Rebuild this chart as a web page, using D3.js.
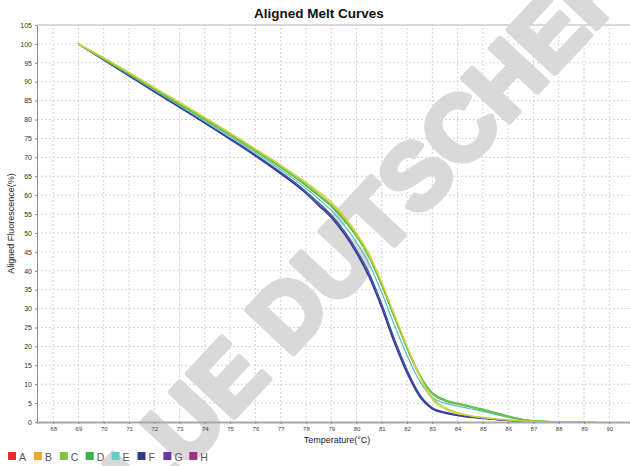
<!DOCTYPE html>
<html>
<head>
<meta charset="utf-8">
<script src="https://cdn.jsdelivr.net/npm/d3@7"></script>
<style>
  body { margin: 0; background: #fff; }
  svg { display: block; font-family: Arial, "Liberation Sans", sans-serif; }
</style>
</head>
<body>
<div id="chart"></div>
<script>
// temperatures shared by all curves
var temps = [69, 70, 71, 72, 73, 74, 75, 76, 77, 78, 78.5, 79, 79.5, 80, 80.5, 81, 81.5, 82, 82.5, 83, 83.5, 84, 84.5, 85, 85.5, 86, 86.5, 87, 88, 89, 89.5];

// aligned fluorescence (%) per curve
var violetCurve = [100, 95.7, 91.5, 87.3, 83.2, 79.0, 74.7, 70.3, 65.6, 60.4, 57.2, 54.0, 49.8, 44.6, 38.2, 30.0, 20.8, 12.8, 6.6, 3.4, 2.3, 1.7, 1.2, 0.9, 0.6, 0.35, 0.15, 0.05, null, null, null];
var navyCurve = [100, 95.8, 91.6, 87.4, 83.3, 79.1, 74.9, 70.5, 65.8, 60.6, 57.5, 54.3, 50.1, 44.9, 38.6, 30.4, 21.2, 13.2, 7.0, 3.6, 2.5, 1.8, 1.3, 1.0, 0.7, 0.4, 0.2, 0.1, null, null, null];
var blueCurve = [100, 95.8, 91.7, 87.5, 83.4, 79.2, 75.0, 70.7, 66.1, 61.0, 58.0, 54.8, 50.7, 45.5, 39.4, 31.2, 22.0, 13.8, 7.3, 3.8, 2.6, 1.9, 1.4, 1.0, 0.7, 0.4, 0.2, 0.1, null, null, null];
var cyanCurve = [100, 95.9, 91.9, 87.8, 83.7, 79.6, 75.5, 71.2, 66.7, 61.8, 59.0, 56.0, 52.2, 47.5, 41.8, 34.2, 25.6, 17.6, 10.8, 6.5, 5.0, 4.2, 3.5, 2.8, 2.0, 1.2, 0.6, 0.25, 0.05, 0, null];
var greenCurve = [100, 96.0, 92.0, 88.0, 84.0, 80.0, 75.9, 71.7, 67.3, 62.5, 59.8, 57.0, 53.4, 49.0, 43.5, 36.0, 27.6, 19.4, 12.2, 7.4, 5.6, 4.7, 3.9, 3.1, 2.3, 1.4, 0.7, 0.3, 0.05, 0, null];
var greenCurve2 = [100, 96.0, 92.1, 88.1, 84.1, 80.1, 76.0, 71.8, 67.4, 62.7, 60.0, 57.2, 53.6, 49.2, 43.7, 36.2, 27.8, 19.6, 12.5, 7.8, 5.9, 5.0, 4.2, 3.4, 2.5, 1.6, 0.8, 0.35, 0.05, 0, null];
var lightGreenCurve = [100, 96.1, 92.2, 88.2, 84.2, 80.2, 76.1, 71.9, 67.5, 62.8, 60.2, 57.4, 53.8, 49.3, 43.8, 36.4, 28.0, 19.8, 12.6, 7.6, 5.7, 4.8, 4.0, 3.2, 2.4, 1.5, 0.8, 0.35, 0.05, 0, null];
var limeCurve = [100, 96.2, 92.3, 88.3, 84.4, 80.4, 76.3, 72.1, 67.8, 63.2, 60.6, 57.8, 54.2, 49.6, 44.0, 36.6, 28.2, 20.0, 12.3, 6.4, 3.8, 2.5, 1.7, 1.2, 0.9, 0.6, 0.35, 0.2, 0.05, 0, 0];
var yellowCurve = [100, 96.4, 92.5, 88.5, 84.6, 80.6, 76.5, 72.3, 68.0, 63.4, 61.0, 58.3, 54.6, 50.0, 44.5, 37.0, 28.5, 20.0, 12.0, 6.0, 3.4, 2.2, 1.6, 1.1, 0.8, 0.5, 0.3, 0.15, 0.05, 0, 0];

var curveValues = [violetCurve, navyCurve, blueCurve, cyanCurve, greenCurve, greenCurve2, lightGreenCurve, limeCurve, yellowCurve];
var curveColors = ["#4a46a6", "#2b3a8e", "#3848a0", "#52c3bd", "#3ab54a", "#4cba4c", "#7cc242", "#b3cc3a", "#d6d23c"];

// legend
var wells = ["A", "B", "C", "D", "E", "F", "G", "H"];
var wellColors = ["#ec2a2e", "#e8aa2c", "#80c341", "#3cb44b", "#66cbc9", "#2e3b8c", "#6a36a0", "#a2307f"];

var xTicks = d3.range(68, 91);
var yTicks = d3.range(0, 106, 5);

var width = 630, height = 466;
var margin = {top: 25, right: 0, bottom: 44, left: 37};

var svg = d3.select("#chart").append("svg")
    .attr("width", width)
    .attr("height", height);

var x = d3.scaleLinear()
    .domain([67.36, 90.82])
    .range([margin.left, width - margin.right]);

var y = d3.scaleLinear()
    .domain([0, 105])
    .range([height - margin.bottom, margin.top]);

// grid
svg.append("g").selectAll("line")
    .data(xTicks)
    .enter().append("line")
    .attr("x1", function(d) { return x(d); })
    .attr("x2", function(d) { return x(d); })
    .attr("y1", y(0))
    .attr("y2", y(105))
    .attr("stroke", "#d4d4d4")
    .attr("stroke-dasharray", "2,2");

svg.append("g").selectAll("line")
    .data(yTicks.filter(function(d) { return d > 0 && d < 105; }))
    .enter().append("line")
    .attr("x1", x.range()[0])
    .attr("x2", x.range()[1])
    .attr("y1", function(d) { return y(d); })
    .attr("y2", function(d) { return y(d); })
    .attr("stroke", "#d4d4d4")
    .attr("stroke-dasharray", "2,2");

// top border
svg.append("line")
    .attr("x1", x.range()[0]).attr("x2", x.range()[1])
    .attr("y1", y(105)).attr("y2", y(105))
    .attr("stroke", "#b4b4b4");

// watermark (runs off the picture, as in the original)
svg.append("text")
    .attr("transform", "translate(346,250) rotate(-47)")
    .attr("text-anchor", "middle")
    .attr("dominant-baseline", "central")
    .style("font-size", "92px")
    .style("font-weight", "bold")
    .style("fill", "#d9d9d9")
    .style("stroke", "#d9d9d9")
    .style("stroke-width", 6)
    .style("stroke-linejoin", "round")
    .text("BLUE DUTSCHER");

// curves
var line = d3.line()
    .defined(function(d) { return d[1] != null; })
    .x(function(d) { return x(d[0]); })
    .y(function(d) { return y(d[1]); })
    .curve(d3.curveMonotoneX);

svg.append("g").selectAll("path")
    .data(curveValues)
    .enter().append("path")
    .attr("d", function(vals) { return line(temps.map(function(t, i) { return [t, vals[i]]; })); })
    .attr("fill", "none")
    .attr("stroke", function(d, i) { return curveColors[i]; })
    .attr("stroke-width", 1.2);

// axes
var yAxis = svg.append("g")
    .attr("transform", "translate(" + margin.left + ",0)")
    .call(d3.axisLeft(y).tickValues(yTicks).tickSize(2).tickPadding(3));
yAxis.select(".domain").attr("stroke", "#8c8c8c");
yAxis.selectAll(".tick line").attr("stroke", "#8c8c8c");
yAxis.selectAll("text").style("font-size", "7px").style("font-family", "Arial").attr("fill", "#333");

var xAxis = svg.append("g")
    .attr("transform", "translate(0," + y(0) + ")")
    .call(d3.axisBottom(x).tickValues(xTicks).tickSize(2).tickPadding(3));
xAxis.select(".domain").attr("stroke", "#a8a8a8").attr("stroke-width", 2);
xAxis.selectAll(".tick line").attr("stroke", "#8c8c8c");
xAxis.selectAll("text").style("font-size", "6px").style("font-family", "Arial").attr("fill", "#444");

// title and labels
svg.append("text")
    .attr("x", 319).attr("y", 18)
    .attr("text-anchor", "middle")
    .style("font-size", "13.5px")
    .style("font-weight", "bold")
    .attr("fill", "#111")
    .text("Aligned Melt Curves");

svg.append("text")
    .attr("transform", "translate(14," + ((y(0) + y(105)) / 2) + ") rotate(-90)")
    .attr("text-anchor", "middle")
    .style("font-size", "9px")
    .attr("fill", "#222")
    .text("Aligned Fluorescence(%)");

svg.append("text")
    .attr("x", 337).attr("y", 443)
    .attr("text-anchor", "middle")
    .style("font-size", "9px")
    .attr("fill", "#222")
    .text("Temperature(°C)");

// legend
var legend = svg.append("g").selectAll("g")
    .data(wells)
    .enter().append("g")
    .attr("transform", function(d, i) { return "translate(" + (8 + i * 25.9) + ",452)"; });

legend.append("rect")
    .attr("width", 8).attr("height", 8)
    .attr("fill", function(d, i) { return wellColors[i]; });

legend.append("text")
    .attr("x", 11).attr("y", 8.5)
    .style("font-size", "10.5px")
    .attr("fill", "#555")
    .text(function(d) { return d; });
</script>
</body>
</html>
